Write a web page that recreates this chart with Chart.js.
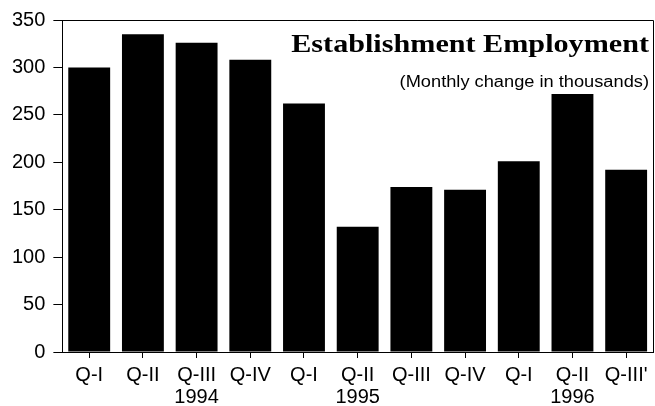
<!DOCTYPE html>
<html>
<head>
<meta charset="utf-8">
<script src="https://cdn.jsdelivr.net/npm/chart.js@4/dist/chart.umd.min.js"></script>
<style>
  body { margin: 0; background: #fff; }
  #wrap { width: 655px; height: 406px; }
</style>
</head>
<body>
<div id="wrap"><canvas id="empChart"></canvas></div>
<script>
// quarters and years under the bars
const quarters = ['Q-I', 'Q-II', 'Q-III', 'Q-IV', 'Q-I', 'Q-II', 'Q-III', 'Q-IV', 'Q-I', 'Q-II', "Q-III'"];
const years = ['', '', '1994', '', '', '1995', '', '', '', '1996', ''];
// monthly change in thousands
const employment = [300, 335, 326, 308, 262, 132, 174, 171, 201, 272, 192];
const yTicks = [0, 50, 100, 150, 200, 250, 300, 350];

const labels = quarters.map((q, i) => years[i] ? [q, years[i]] : q);

// text in the picture is a bit wider than the fonts we have
function wideText(ctx, text, x, y, stretch) {
    ctx.save();
    ctx.translate(x, y);
    ctx.scale(stretch, 1);
    ctx.fillText(text, 0, 0);
    ctx.restore();
}

// frame around plot + title inside
const framePlugin = {
    id: 'frame',
    afterDraw(chart) {
        const { ctx, chartArea } = chart;
        ctx.save();
        ctx.strokeStyle = '#000';
        ctx.lineWidth = 1;
        ctx.beginPath();
        ctx.moveTo(chartArea.left, chartArea.top + 0.5);
        ctx.lineTo(chartArea.right + 0.5, chartArea.top + 0.5);
        ctx.lineTo(chartArea.right + 0.5, chartArea.bottom);
        ctx.stroke();

        ctx.fillStyle = '#000';
        ctx.textAlign = 'right';
        ctx.font = 'bold 26px "Liberation Serif"';
        wideText(ctx, 'Establishment Employment', chartArea.right - 4, 52, 1.16);
        ctx.font = '16px "Liberation Sans"';
        wideText(ctx, '(Monthly change in thousands)', chartArea.right - 4, 87, 1.14);
        ctx.restore();
    }
};

new Chart(document.getElementById('empChart').getContext('2d'), {
    type: 'bar',
    data: {
        labels: labels,
        datasets: [{
            data: employment,
            backgroundColor: '#000',
            borderWidth: 0,
            barPercentage: 0.78,
            categoryPercentage: 1
        }]
    },
    options: {
        responsive: true,
        maintainAspectRatio: false,
        animation: false,
        layout: { padding: { top: 10, right: 2, left: 4, bottom: 0 } },
        plugins: { legend: { display: false }, tooltip: { enabled: false } },
        scales: {
            x: {
                offset: true,
                afterFit: axis => { axis.height = 54; },
                grid: { display: true, offset: false, drawOnChartArea: false, tickLength: 6, color: '#000' },
                border: { color: '#000', width: 1 },
                ticks: {
                    color: '#000', padding: 6, maxRotation: 0, autoSkip: false,
                    font: { family: '"Liberation Sans"', size: 20, lineHeight: 1.1 }
                }
            },
            y: {
                min: 0,
                max: 350,
                afterBuildTicks: axis => { axis.ticks = yTicks.map(v => ({ value: v })); },
                grid: { display: true, drawOnChartArea: false, tickLength: 9, color: '#000' },
                border: { color: '#000', width: 1 },
                ticks: {
                    color: '#000', padding: 8,
                    font: { family: '"Liberation Sans"', size: 20 }
                }
            }
        }
    },
    plugins: [framePlugin]
});
</script>
</body>
</html>
